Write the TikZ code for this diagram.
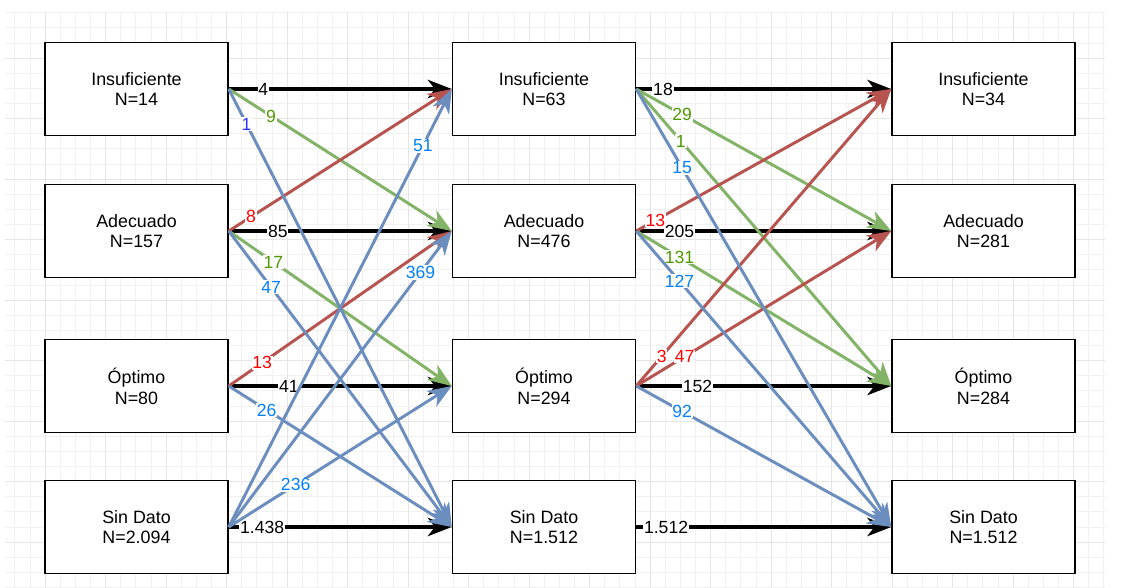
\documentclass[tikz,border=0pt]{standalone}
\usepackage{fontspec}
\setmainfont{Liberation Sans}
\usetikzlibrary{arrows.meta}
\definecolor{verde}{HTML}{82B366}
\definecolor{rojo}{HTML}{B85450}
\definecolor{azul}{HTML}{6C8EBF}
\definecolor{tverde}{RGB}{77,153,0}
\definecolor{trojo}{RGB}{255,0,0}
\definecolor{tazul}{RGB}{0,127,255}
\definecolor{tviol}{RGB}{51,51,255}
\begin{document}
\begin{tikzpicture}[x=0.025cm,y=-0.025cm,
  caja/.style={draw,line width=1pt,fill=white,minimum width=4.575cm,minimum height=2.325cm,
    align=center,font=\fontsize{12.7}{14.7}\selectfont},
  flecha/.style={line width=2.1pt,-{Stealth[length=17pt,width=13pt,inset=5pt]}},
  negro/.style={flecha,draw=black,line width=2.7pt},
  fverde/.style={flecha,draw=verde},
  frojo/.style={flecha,draw=rojo},
  fazul/.style={flecha,draw=azul},
  num/.style={fill=white,inner sep=0.6pt,font=\fontsize{12.5}{13}\selectfont},
  nv/.style={num,text=tverde},
  nr/.style={num,text=trojo},
  na/.style={num,text=tazul}]
\useasboundingbox (0,0) rectangle (1130,587);
% cuadricula
\begin{scope}
\clip (5,12) rectangle (1105,587);
\foreach \k in {0,...,74} \draw[gray!11,line width=0.5pt] ({45+15.125*(\k-3)},12) -- ++(0,575);
\foreach \k in {0,...,38} \draw[gray!11,line width=0.5pt] (5,{58+15.125*(\k-3)}) -- ++(1100,0);
\foreach \k in {0,...,19} \draw[gray!20,line width=0.6pt] ({45+60.5*(\k-1)},12) -- ++(0,575);
\foreach \k in {0,...,10} \draw[gray!20,line width=0.6pt] (5,{58+60.5*(\k-1)}) -- ++(1100,0);
\end{scope}
% cajas
\node[caja] (i1) at (136.5,89) {Insuficiente\\N=14};
\node[caja] (a1) at (136.5,231) {Adecuado\\N=157};
\node[caja] (o1) at (136.5,386) {Óptimo\\N=80};
\node[caja] (s1) at (136.5,527) {Sin Dato\\N=2.094};
\node[caja] (i2) at (544,89) {Insuficiente\\N=63};
\node[caja] (a2) at (544,231) {Adecuado\\N=476};
\node[caja] (o2) at (544,386) {Óptimo\\N=294};
\node[caja] (s2) at (544,527) {Sin Dato\\N=1.512};
\node[caja] (i3) at (983.5,89) {Insuficiente\\N=34};
\node[caja] (a3) at (983.5,231) {Adecuado\\N=281};
\node[caja] (o3) at (983.5,386) {Óptimo\\N=284};
\node[caja] (s3) at (983.5,527) {Sin Dato\\N=1.512};
% primer paso
\draw[negro] (i1.east) -- node[num,pos=0.155]{4} (i2.west);
\draw[negro] (a1.east) -- node[num,pos=0.22]{85} (a2.west);
\draw[negro] (o1.east) -- node[num,pos=0.27]{41} (o2.west);
\draw[negro] (s1.east) -- node[num,pos=0.15]{1.438} (s2.west);
\draw[fverde] (i1.east) -- node[nv,pos=0.19]{9} (a2.west);
\draw[fverde] (a1.east) -- node[nv,pos=0.2]{17} (o2.west);
\draw[frojo] (a1.east) -- node[nr,pos=0.1]{8} (i2.west);
\draw[frojo] (o1.east) -- node[nr,pos=0.15]{13} (a2.west);
\draw[fazul] (i1.east) -- node[num,pos=0.08,text=tviol]{1} (s2.west);
\draw[fazul] (a1.east) -- node[na,pos=0.19]{47} (s2.west);
\draw[fazul] (o1.east) -- node[na,pos=0.17]{26} (s2.west);
\draw[fazul] (s1.east) -- node[na,pos=0.87]{51} (i2.west);
\draw[fazul] (s1.east) -- node[na,pos=0.86]{369} (a2.west);
\draw[fazul] (s1.east) -- node[na,pos=0.3]{236} (o2.west);
% segundo paso
\draw[negro] (i2.east) -- node[num,pos=0.105]{18} (i3.west);
\draw[negro] (a2.east) -- node[num,pos=0.17]{205} (a3.west);
\draw[negro] (o2.east) -- node[num,pos=0.24]{152} (o3.west);
\draw[negro] (s2.east) -- node[num,pos=0.117]{1.512} (s3.west);
\draw[fverde] (i2.east) -- node[nv,pos=0.18]{29} (a3.west);
\draw[fverde] (i2.east) -- node[nv,pos=0.175]{1} (o3.west);
\draw[fverde] (a2.east) -- node[nv,pos=0.17]{131} (o3.west);
\draw[frojo] (a2.east) -- node[nr,pos=0.075]{13} (i3.west);
\draw[frojo] (o2.east) -- node[nr,pos=0.1]{3} (i3.west);
\draw[frojo] (o2.east) -- node[nr,pos=0.19]{47} (a3.west);
\draw[fazul] (i2.east) -- node[na,pos=0.18]{15} (s3.west);
\draw[fazul] (a2.east) -- node[na,pos=0.17]{127} (s3.west);
\draw[fazul] (o2.east) -- node[na,pos=0.18]{92} (s3.west);
\end{tikzpicture}
\end{document}
